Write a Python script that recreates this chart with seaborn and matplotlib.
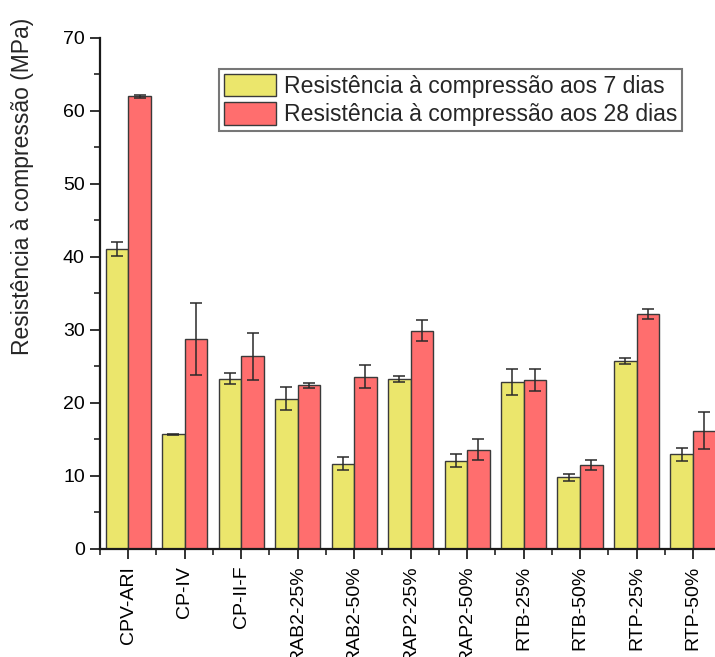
import matplotlib
matplotlib.use("Agg")
import matplotlib.pyplot as plt
import seaborn as sns
import pandas as pd
import numpy as np
from matplotlib.ticker import MultipleLocator, FixedLocator

# Compressive strength of the mortar mixes (MPa)
categorias = ["CPV-ARI", "CP-IV", "CP-II-F", "RAB2-25%", "RAB2-50%", "RAP2-25%",
              "RAP2-50%", "RTB-25%", "RTB-50%", "RTP-25%", "RTP-50%"]
res_7d = [41.1, 15.7, 23.3, 20.6, 11.7, 23.3, 12.1, 22.9, 9.8, 25.7, 13.0]
err_7d = [1.0, 0.1, 0.75, 1.6, 0.9, 0.45, 0.9, 1.8, 0.5, 0.4, 0.9]
res_28d = [62.0, 28.8, 26.4, 22.4, 23.6, 29.9, 13.6, 23.2, 11.5, 32.2, 16.2]
err_28d = [0.2, 4.9, 3.2, 0.3, 1.55, 1.4, 1.45, 1.5, 0.65, 0.65, 2.5]
serie_7d = "Resistência à compressão aos 7 dias"
serie_28d = "Resistência à compressão aos 28 dias"

df = pd.DataFrame({
    "Amostra": categorias * 2,
    "Resistência": res_7d + res_28d,
    "Erro": err_7d + err_28d,
    "Idade": [serie_7d] * len(categorias) + [serie_28d] * len(categorias),
})

sns.set_theme(style="ticks")
plt.rcParams["font.family"] = ["Liberation Sans", "DejaVu Sans"]

fig = plt.figure(figsize=(7.15, 6.57), dpi=100)
ax = fig.add_axes([0.1399, 0.1644, 0.8601, 0.7778])

paleta = {serie_7d: "#EBE66C", serie_28d: "#FF6E6E"}
sns.barplot(data=df, x="Amostra", y="Resistência", hue="Idade", palette=paleta,
            order=categorias, hue_order=[serie_7d, serie_28d], errorbar=None,
            width=0.8, edgecolor="#3a3a3a", linewidth=1.0, saturation=1, ax=ax)

# Error bars placed at the centre of each drawn bar
barras = [p for p in ax.patches if p.get_height() > 0][:2 * len(categorias)]
centros = [b.get_x() + b.get_width() / 2 for b in barras]
alturas = [b.get_height() for b in barras]
erros = err_7d + err_28d
ax.errorbar(centros, alturas, yerr=erros, fmt="none", ecolor="#2a2a2a",
            elinewidth=1.1, capsize=4.2, capthick=1.1, zorder=5)

ax.set_ylim(0, 70)
ax.set_xlim(-0.5, 10.39)
ax.yaxis.set_major_locator(MultipleLocator(10))
ax.yaxis.set_minor_locator(MultipleLocator(5))
ax.xaxis.set_minor_locator(FixedLocator(np.arange(-0.5, 11, 1.0)))

ax.set_xlabel("")
ax.set_ylabel("Resistência à compressão (MPa)", fontsize=16.5)
ax.yaxis.set_label_coords(-0.107, 0.71)
ax.tick_params(axis="x", which="major", labelsize=14, rotation=90, length=7,
               width=1.3, color="#222222", labelcolor="black", pad=5)
ax.tick_params(axis="y", which="major", labelsize=14, length=7, width=1.3,
               color="#222222", labelcolor="black", pad=4)
ax.tick_params(which="minor", length=4, width=1.2, color="#222222")

sns.despine(ax=ax, top=True, right=True)
for lado in ("left", "bottom"):
    ax.spines[lado].set_linewidth(1.6)
    ax.spines[lado].set_color("#1a1a1a")

leg = ax.legend(loc="upper left", bbox_to_anchor=(0.194, 0.9395), fontsize=16.6,
                frameon=True, fancybox=False, handlelength=2.27, handleheight=1.15,
                handletextpad=0.33, borderpad=0.2, labelspacing=0.18,
                borderaxespad=0)
leg.get_frame().set_edgecolor("#777777")
leg.get_frame().set_linewidth(1.5)
leg.get_frame().set_alpha(1)

fig.savefig("out.png", dpi=100)
